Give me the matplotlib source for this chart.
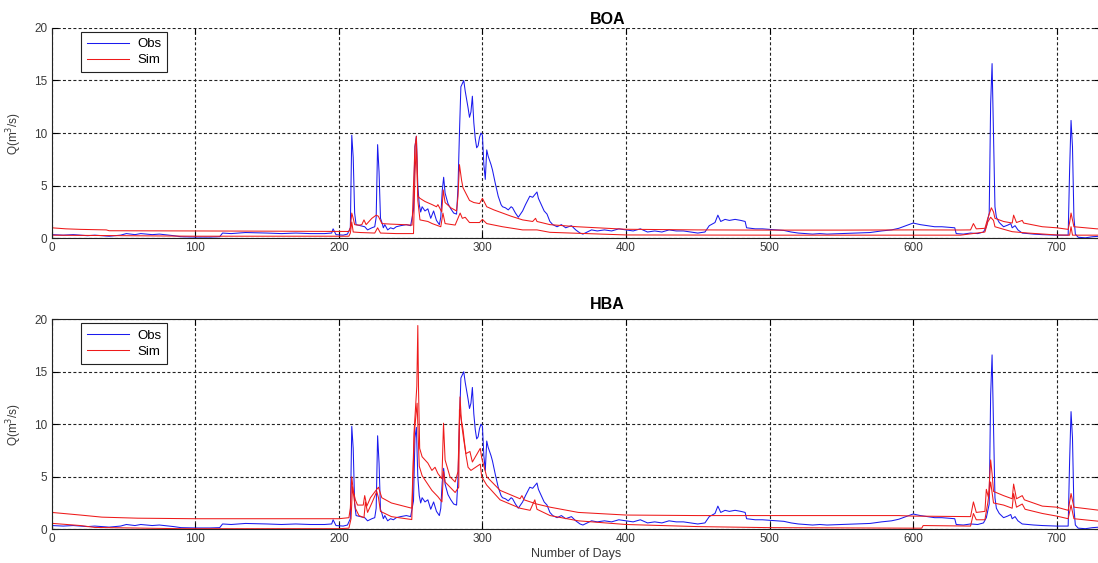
import matplotlib
matplotlib.use("Agg")
import matplotlib.pyplot as plt

plt.rcParams['font.family'] = ['Liberation Sans', 'DejaVu Sans']

# observed discharge (same record in both panels)
obs_day = [0, 8, 15, 25, 30, 40, 48, 52, 58, 62, 70, 75, 85, 90, 100, 110, 117, 119, 125, 135,
           150, 160, 170, 180, 190, 195, 196, 198, 203, 206, 208, 209, 210, 211, 212, 215, 218, 220,
           223, 225, 226, 227, 228, 229, 230, 231, 232, 234, 236, 238, 240, 243, 247, 250, 252, 253,
           254, 255, 256, 257, 258, 260, 262, 264, 266, 268, 270, 271, 272, 273, 274, 276, 278, 280,
           282, 283, 284, 285, 287, 288, 289, 290, 291, 292, 293, 294, 295, 296, 297, 298, 299, 300,
           301, 302, 303, 304, 306, 307, 309, 311, 313, 314, 316, 318, 320, 321, 323, 325, 327, 328,
           330, 333, 335, 338, 339, 341, 343, 345, 347, 349, 352, 355, 358, 362, 365, 368, 370, 373,
           376, 380, 385, 390, 395, 400, 405, 410, 415, 420, 425, 430, 435, 440, 445, 450, 455, 458,
           462, 464, 466, 469, 472, 476, 480, 483, 484, 490, 495, 500, 505, 510, 515, 520, 525, 530,
           535, 540, 550, 560, 570, 578, 585, 590, 595, 600, 605, 610, 615, 620, 625, 629, 630, 635,
           640, 645, 649, 651, 653, 654, 655, 656, 657, 658, 660, 663, 666, 668, 669, 671, 673, 676,
           680, 684, 690, 700, 708, 709, 710, 711, 712, 713, 715, 720, 725, 730]
obs_q = [0.35, 0.3, 0.35, 0.25, 0.3, 0.2, 0.3, 0.45, 0.35, 0.45, 0.35, 0.4, 0.25, 0.15, 0.12, 0.12, 0.15, 0.5, 0.45, 0.55,
         0.5, 0.45, 0.5, 0.45, 0.45, 0.5, 0.9, 0.35, 0.3, 0.4, 1.0, 9.8, 7.7, 2.4, 1.3, 1.2, 1.1, 0.8,
         1.0, 1.1, 2.0, 8.9, 6.3, 1.9, 1.5, 1.0, 1.3, 0.8, 1.0, 0.9, 1.1, 1.2, 1.3, 1.2, 2.7, 8.7,
         9.7, 5.0, 3.2, 2.5, 3.0, 2.6, 2.8, 1.9, 2.6, 1.7, 1.3, 2.0, 4.5, 5.8, 4.3, 3.3, 2.8, 2.4,
         2.3, 4.9, 10.0, 14.4, 15.0, 14.0, 13.2, 12.4, 11.5, 12.0, 13.5, 11.0, 9.5, 8.6, 8.8, 9.6, 10.0, 9.8,
         7.0, 5.6, 8.4, 7.8, 7.0, 6.5, 5.2, 4.0, 3.2, 3.0, 2.9, 2.7, 3.0, 2.9, 2.4, 2.0, 2.4, 2.6,
         3.2, 4.0, 3.9, 4.4, 3.8, 3.2, 2.6, 2.3, 1.6, 1.3, 1.1, 1.3, 1.0, 1.2, 0.8, 0.5, 0.4, 0.6,
         0.8, 0.7, 0.8, 0.7, 0.9, 0.8, 0.7, 0.9, 0.6, 0.7, 0.6, 0.8, 0.7, 0.7, 0.6, 0.5, 0.6, 1.2,
         1.5, 2.2, 1.6, 1.8, 1.7, 1.8, 1.7, 1.6, 1.0, 0.9, 0.9, 0.85, 0.8, 0.75, 0.6, 0.5, 0.45, 0.4,
         0.45, 0.4, 0.45, 0.5, 0.55, 0.7, 0.8, 0.95, 1.2, 1.45, 1.3, 1.2, 1.1, 1.1, 1.05, 1.0, 0.45, 0.4,
         0.5, 0.45, 0.6, 1.1, 2.4, 12.8, 16.6, 9.7, 3.0, 2.0, 1.5, 1.1, 1.26, 1.4, 1.0, 1.2, 0.8, 0.5,
         0.45, 0.4, 0.35, 0.3, 0.3, 6.5, 11.2, 8.7, 2.0, 0.4, 0.1, 0.05, 0.15, 0.2]

# BOA simulation, upper and lower traces
boa_hi_day = [0, 10, 20, 38, 40, 100, 150, 207, 208, 209, 210, 211, 214, 216, 217.5, 219, 223, 226, 227.5,
              230, 236, 245, 251, 253, 254, 255, 256.5, 260, 265, 268, 269, 271.7, 272.7, 274, 278, 282,
              283, 284, 285.5, 286.5, 291, 294, 298, 300, 303, 308, 314, 320, 328, 335, 337, 338, 347,
              366, 380, 400, 450, 500, 550, 600, 633, 640, 642, 644, 650, 652, 654.5, 656, 657, 663, 669,
              670, 672, 676, 677, 690, 700, 708, 709, 710, 712, 728, 730]
boa_hi_q = [1.0, 0.9, 0.85, 0.8, 0.72, 0.7, 0.68, 0.65, 1.0, 2.4, 1.9, 1.3, 1.25, 1.3, 1.75, 1.3, 1.9, 2.2, 2.1,
            1.4, 1.35, 1.3, 1.25, 8.7, 9.7, 4.0, 3.8, 3.5, 3.2, 3.0, 3.2, 2.5, 4.6, 3.4, 2.9, 2.6,
            4.0, 7.0, 5.5, 4.8, 3.6, 3.4, 3.3, 3.8, 3.0, 2.7, 2.4, 2.1, 1.75, 1.6, 1.9, 1.6, 1.3,
            1.1, 1.0, 0.86, 0.8, 0.78, 0.78, 0.8, 0.79, 0.8, 1.4, 0.9, 0.95, 1.9, 2.9, 2.5, 1.9, 1.6, 1.45,
            2.2, 1.5, 1.7, 1.45, 1.1, 1.0, 0.85, 1.5, 2.4, 1.1, 0.9, 0.9]
boa_lo_day = [0, 50, 100, 207, 208, 209, 210, 215, 225, 227, 229, 240, 252, 253, 254, 255, 256.5, 262, 265,
              271, 272.5, 274, 281, 284.5, 286, 288, 291, 298, 300, 303, 314, 328, 338, 347, 366, 400,
              500, 633, 650, 652, 654, 656, 657, 663, 669, 680, 700, 709, 710, 711, 730]
boa_lo_q = [0.3, 0.25, 0.2, 0.2, 0.5, 1.55, 0.6, 0.55, 0.5, 1.0, 0.5, 0.45, 0.45, 6.0, 9.0, 3.6, 1.75, 1.6, 1.4,
            1.1, 2.4, 1.4, 1.26, 2.4, 1.9, 2.0, 1.5, 1.5, 1.8, 1.4, 1.1, 0.8, 0.8, 0.57, 0.48, 0.32,
            0.3, 0.3, 0.6, 1.55, 2.0, 1.7, 1.1, 0.86, 0.63, 0.5, 0.32, 0.3, 1.1, 0.3, 0.3]

# HBA simulation, upper and lower traces
hba_hi_day = [0, 20, 35, 60, 100, 200, 207, 208, 209, 210, 211.5, 213, 217, 218, 219.5, 222, 226.4, 227.6,
              229.9, 236.6, 250.8, 252.5, 254.3, 255, 255.5, 256.3, 258, 262, 264.8, 267, 269, 271.8,
              272.9, 274, 277.4, 281, 283, 284.4, 285.5, 287, 288.5, 291.3, 293, 298.5, 299.5, 303,
              312.3, 326.2, 327.5, 329, 337.8, 347.1, 366.8, 400, 450, 500, 590, 600, 640, 642, 644,
              650, 651, 652.5, 654, 655, 656, 663, 669, 670, 672, 676, 677.5, 690, 700, 708, 710, 712, 730]
hba_hi_q = [1.6, 1.35, 1.15, 1.05, 1.0, 1.0, 1.1, 2.0, 5.0, 3.7, 2.8, 2.3, 2.3, 3.2, 2.2, 3.0, 3.8, 4.0,
            3.0, 2.5, 2.0, 9.5, 13.6, 19.4, 13.3, 7.7, 6.9, 6.3, 5.6, 5.9, 5.3, 4.8,
            10.1, 6.6, 5.0, 4.5, 5.5, 12.6, 10.0, 8.5, 7.2, 7.4, 6.4, 7.7, 6.8, 5.0,
            3.7, 2.9, 3.2, 2.8, 2.4, 2.1, 1.6, 1.35, 1.3, 1.3, 1.3, 1.25, 1.2, 2.6, 1.6,
            1.7, 3.8, 3.0, 6.6, 5.3, 3.6, 3.2, 2.9, 4.3, 2.9, 3.2, 2.8, 2.2, 2.1, 1.8, 3.4, 2.1, 1.8]
hba_lo_day = [0, 20, 30, 90, 200, 207, 208.5, 209.5, 211.5, 214, 217.5, 218.5, 220, 223, 226.4, 227.6, 229,
              236.6, 250.8, 252.5, 254.5, 256, 258, 264.8, 269, 271.8, 272.9, 274, 281, 283.5, 284,
              286.5, 288.5, 290, 292, 298.5, 299.5, 303, 312.3, 326.2, 333.2, 336.5, 338, 347.1, 366.8,
              400, 450, 500, 600, 606, 607, 640, 641, 642, 644, 650, 652, 654, 656, 663, 669, 670, 672,
              676, 678, 690, 700, 708, 710, 712, 730]
hba_lo_q = [0.56, 0.35, 0.17, 0.05, 0.05, 0.1, 1.0, 4.05, 2.0, 1.3, 1.1, 2.6, 1.6, 2.5, 3.6, 3.0, 1.7,
            1.2, 0.92, 9.1, 12.0, 6.0, 5.1, 3.7, 3.1, 2.6, 5.5, 4.5, 3.5, 4.0, 11.4,
            9.5, 7.1, 5.9, 5.6, 6.2, 5.0, 4.2, 2.8, 2.0, 1.8, 2.8, 1.9, 1.3, 0.8,
            0.45, 0.25, 0.15, 0.1, 0.1, 0.35, 0.3, 0.9, 1.5, 0.9, 0.9, 2.5, 4.5, 2.5, 2.3, 2.0, 3.4, 2.1,
            2.4, 1.9, 1.5, 1.25, 1.0, 2.3, 1.0, 0.75]

fig = plt.figure(figsize=(10.98, 5.63), dpi=100)
ax1 = fig.add_axes([0.0471, 0.5767, 0.9545, 0.3739])
ax2 = fig.add_axes([0.0471, 0.0600, 0.9545, 0.3730])

panels = [
    (ax1, "BOA", boa_hi_day, boa_hi_q, boa_lo_day, boa_lo_q, 3),
    (ax2, "HBA", hba_hi_day, hba_hi_q, hba_lo_day, hba_lo_q, 7),
]
for ax, name, hd, hq, ld, lq, pad in panels:
    ax.plot(obs_day, obs_q, color="#1a1aee", lw=0.75, label="Obs")
    ax.plot(hd, hq, color="#ee1a1a", lw=0.75, label="Sim")
    ax.plot(ld, lq, color="#ee1a1a", lw=0.75)
    ax.set_xlim(0, 730)
    ax.set_ylim(0, 20)
    ax.set_xticks([0, 100, 200, 300, 400, 500, 600, 700])
    ax.set_yticks([0, 5, 10, 15, 20])
    ax.grid(True, color="#222222", lw=0.8, linestyle=(0, (2.7, 2.0)))
    ax.tick_params(direction="in", length=4, width=0.8, labelsize=8.5,
                   labelcolor="#3a3a3a", right=True, top=True, pad=3)
    for sp in ax.spines.values():
        sp.set_linewidth(0.8)
        sp.set_color("#222222")
    ax.set_title(name, fontsize=11.5, fontweight="bold", x=0.53, pad=pad)
    ax.set_ylabel("Q(m$^3$/s)", fontsize=8.5, color="#3a3a3a")
    ax.yaxis.set_label_coords(-0.026, 0.5)
    leg = ax.legend(loc="upper left", bbox_to_anchor=(0.028, 0.98), borderaxespad=0,
                    fontsize=9.5, fancybox=False, framealpha=1, edgecolor="#222222",
                    handlelength=3.2, borderpad=0.45, labelspacing=0.3, handletextpad=0.6)
    leg.get_frame().set_linewidth(0.8)

ax1.spines["top"].set_visible(False)
ax2.set_xlabel("Number of Days", fontsize=9, color="#3a3a3a")
ax2.xaxis.set_label_coords(0.5, -0.088)

fig.savefig("out.png", dpi=100)
